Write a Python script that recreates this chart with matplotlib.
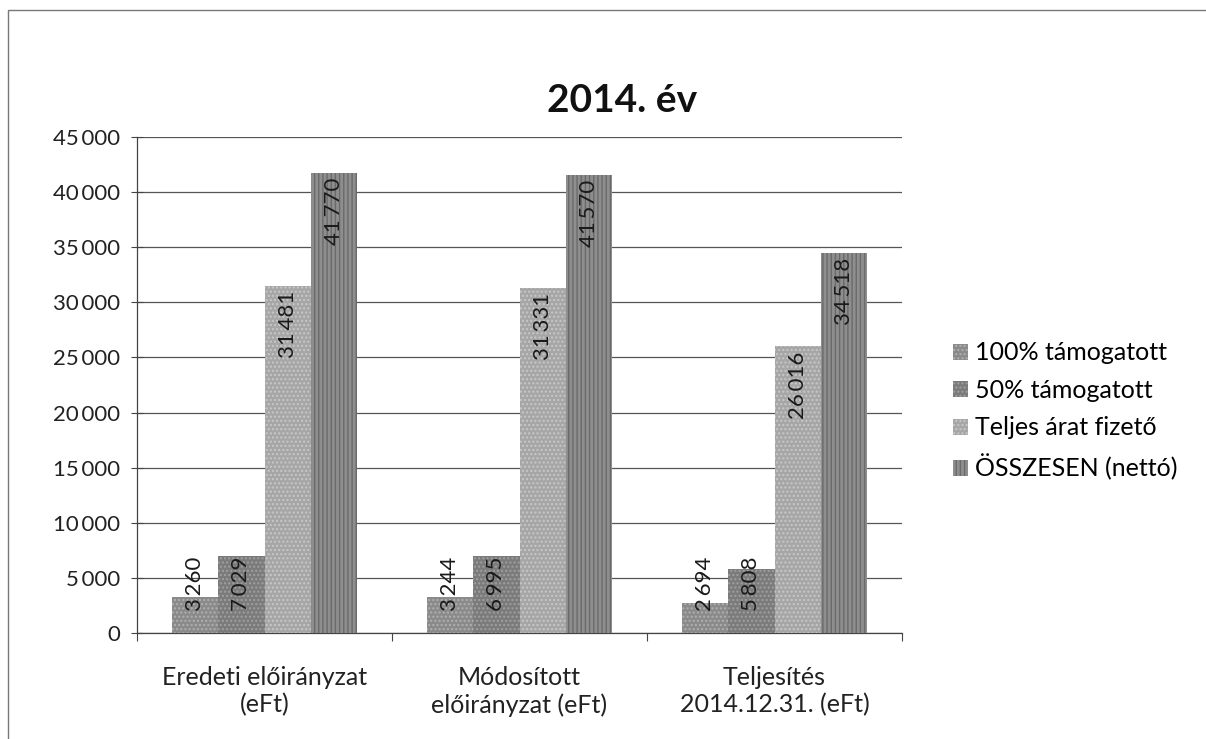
# ------------------------------------------------------------------------------
# -------------------------------------------------------------- IMPORT PACKAGES
import matplotlib
matplotlib.use('Agg')
import matplotlib.pyplot as plt
from matplotlib.patches import Rectangle
import numpy as np

# ------------------------------------------------------------------------------
# ------------------------------------------------------------------------- DATA
categories = ['Eredeti előirányzat\n(eFt)',
              'Módosított\nelőirányzat (eFt)',
              'Teljesítés\n2014.12.31. (eFt)']
series_names = ['100% támogatott', '50% támogatott',
                'Teljes árat fizető', 'ÖSSZESEN (nettó)']
val_100 = [3260, 3244, 2694]
val_50 = [7029, 6995, 5808]
val_full = [31481, 31331, 26016]
val_total = [41770, 41570, 34518]
yticks = [0, 5000, 10000, 15000, 20000, 25000, 30000, 35000, 40000, 45000]

# ------------------------------------------------------------------------------
# ------------------------------------------------------------------------ STYLE
plt.rcParams['font.family'] = ['Lato', 'DejaVu Sans']
colors = ['#8a8a8a', '#7b7b7b', '#a6a6a6', '#8e8e8e']
hatch_colors = ['#b0b0b0', '#a0a0a0', '#c8c8c8', '#6a6a6a']
hatches = ['....', '....', '....', '||||']

def fmt(v):
	s = '{:,}'.format(v).replace(',', '\u2009')
	return s

# ------------------------------------------------------------------------------
# ------------------------------------------------------------------------- PLOT
fig = plt.figure(figsize=(12.06, 7.39), dpi=100)
ax = fig.add_axes([137/1206, 1-633/739, (902-137)/1206, (633-137)/739])

x = np.arange(len(categories))
w = 0.182
data = [val_100, val_50, val_full, val_total]
for i, vals in enumerate(data):
	pos = x + (i - 1.5)*w
	ax.bar(pos, vals, width=w, color=colors[i], edgecolor=hatch_colors[i],
		   linewidth=0, hatch=hatches[i], label=series_names[i], zorder=3)
	for p, v in zip(pos, vals):
		ytop = max(v - 450, 6950)
		ax.text(p, ytop, fmt(v), rotation=90, ha='center', va='top',
				fontsize=16, color='#1a1a1a', zorder=4)

ax.set_xlim(-0.5, 2.5)
ax.set_ylim(0, 45000)
ax.set_yticks(yticks)
ax.set_yticklabels([fmt(t) for t in yticks], fontsize=16, color='#222222')
ax.yaxis.grid(True, color='#555555', linewidth=0.9, zorder=0)
ax.tick_params(axis='y', direction='inout', length=8, width=0.8, pad=8,
			   color='#444444')

ax.set_xticks(x)
ax.set_xticklabels(categories, fontsize=18, color='#222222', linespacing=1.2)
ax.set_xticks([-0.5, 0.5, 1.5, 2.5], minor=True)
ax.tick_params(axis='x', which='major', length=0, pad=24)
ax.tick_params(axis='x', which='minor', direction='out', length=6, width=0.8,
			   color='#444444')

for s in ['top', 'right']:
	ax.spines[s].set_visible(False)
ax.spines['left'].set_color('#444444')
ax.spines['bottom'].set_color('#444444')
ax.spines['left'].set_linewidth(0.9)
ax.spines['bottom'].set_linewidth(0.9)

fig.text(622/1206, 1-100/739, '2014. év', ha='center', va='center',
		 fontsize=28, fontweight='bold', color='#111111')

fig.legend(loc='center left', bbox_to_anchor=(940/1206, 1-411/739),
		   frameon=False, fontsize=18, handlelength=0.6, handleheight=0.6,
		   handletextpad=0.3, labelspacing=0.58, borderpad=0)

# --------------------------------------------------------------- OUTER BORDER
fig.patches.append(Rectangle((8/1206, -0.05), 1.2, 1-10/739+0.05,
							 transform=fig.transFigure, fill=False,
							 edgecolor='#777777', linewidth=1.0))

fig.savefig('out.png', dpi=100)
plt.close()
